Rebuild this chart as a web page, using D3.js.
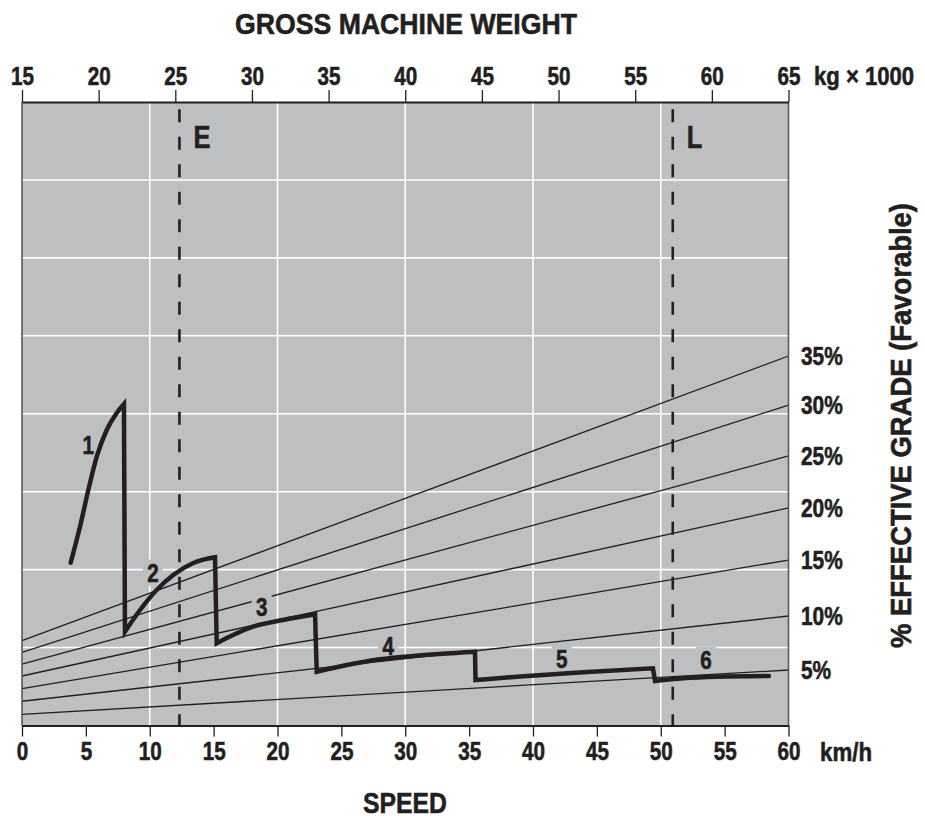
<!DOCTYPE html>
<html><head><meta charset="utf-8">
<script src="https://cdn.jsdelivr.net/npm/d3@7"></script>
<style>
body{margin:0;background:#fff;}
svg text{font-family:"Liberation Sans Narrow","Liberation Sans",Arial,sans-serif;font-weight:bold;fill:#231f20;stroke:#231f20;stroke-width:0.6px;}
</style></head><body>
<svg id="chart" width="925" height="820"></svg>
<script>
// ---------- data ----------
const speedTicks = [0,5,10,15,20,25,30,35,40,45,50,55,60];
const weightTicks = [15,20,25,30,35,40,45,50,55,60,65];
const gridSpeeds = [10,20,30,40,50];
const gridRimpull = [1,2,3,4,5,6,7];
const gradeLabels = ["5%","10%","15%","20%","25%","30%","35%"];
const gradeLeft  = [0.144,0.311,0.472,0.635,0.789,0.939,1.088];
const gradeRight = [0.712,1.405,2.123,2.791,3.458,4.112,4.741];
const gear1 = [[3.81,2.089],[4.54,2.551],[5.32,3.111],[5.85,3.449],[6.63,3.791],[7.41,4.010],[7.98,4.125]];
const gear2 = [[8.06,1.204],[9.24,1.482],[10.54,1.739],[11.84,1.931],[13.41,2.085],[15.11,2.158]];
const gear3 = [[15.24,1.055],[16.52,1.161],[18.08,1.268],[20.43,1.354],[22.94,1.427]];
const gear4 = [[23.07,0.690],[25.42,0.776],[28.02,0.849],[30.63,0.892],[35.46,0.947]];
const gear5 = [[35.50,0.584],[38.72,0.626],[43.91,0.683],[49.39,0.734]];
const gear6 = [[49.55,0.571],[51.74,0.606],[54.38,0.626],[58.47,0.635]];
const gears = [gear1,gear2,gear3,gear4,gear5,gear6];
const gearNames = ["1","2","3","4","5","6"];
const gearLabelAt = [[5.19,3.60],[10.25,1.96],[18.76,1.524],[28.67,1.024],[42.25,0.862],[53.54,0.840]];
const markerNames = ["E","L"];
const markerWeights = [25.27,57.45];

// ---------- layout ----------
const svg = d3.select("#chart");
const L = 22, R = 788.5, T = 102, B = 725.5;
const x = d3.scaleLinear([0,60],[L,R]);
const xw = d3.scaleLinear([15,65],[L,R]);
const y = d3.scaleLinear([0,8],[B,T]);
const ink = "#231f20";
const bg = "#bebfc1";

// condensing factor from font measurement
const probe = svg.append("text").attr("font-size",26).text("00");
const k = 23 / probe.node().getComputedTextLength();
probe.remove();

// fitted text: scaled horizontally to a target width
function fitText(str, tx, ty, size, width, anchor, rotate){
  const g = svg.append("g").attr("transform",`translate(${tx},${ty})${rotate?` rotate(${rotate})`:""}`);
  const t = g.append("text").attr("font-size",size).attr("text-anchor",anchor).text(str);
  const w = t.node().getComputedTextLength();
  t.attr("transform",`scale(${width/w},1)`);
  return t;
}

// background
svg.append("rect").attr("x",L).attr("y",T).attr("width",R-L).attr("height",B-T).attr("fill",bg);

// grid
svg.append("g").selectAll("line").data(gridSpeeds).join("line")
  .attr("x1",d=>x(d)).attr("x2",d=>x(d)).attr("y1",T).attr("y2",B)
  .attr("stroke","#fff").attr("stroke-width",1.6);
svg.append("g").selectAll("line").data(gridRimpull).join("line")
  .attr("x1",L).attr("x2",R).attr("y1",d=>y(d)).attr("y2",d=>y(d))
  .attr("stroke","#fff").attr("stroke-width",1.6);

// grade lines
svg.append("g").selectAll("line").data(gradeLabels).join("line")
  .attr("x1",x(0)).attr("x2",x(60))
  .attr("y1",(d,i)=>y(gradeLeft[i])).attr("y2",(d,i)=>y(gradeRight[i]))
  .attr("stroke",ink).attr("stroke-width",1.3);

// gear label knockouts + labels
const gl = svg.append("g").selectAll("g").data(gearNames).join("g")
  .attr("transform",(d,i)=>`translate(${x(gearLabelAt[i][0])},${y(gearLabelAt[i][1])})`);
gl.append("rect").attr("x",-10).attr("y",-13).attr("width",20).attr("height",26).attr("fill",bg);
gl.append("text").attr("font-size",26).attr("text-anchor","middle").attr("dy","0.36em")
  .attr("transform",`scale(${k},1)`).text(d=>d);

// marker dashed lines
svg.append("g").selectAll("line").data(markerWeights).join("line")
  .attr("x1",d=>xw(d)).attr("x2",d=>xw(d)).attr("y1",109.3).attr("y2",B)
  .attr("stroke",ink).attr("stroke-width",2.6).attr("stroke-dasharray","13,14.5");
svg.append("g").selectAll("g").data(markerNames).join("g")
  .attr("transform",(d,i)=>`translate(${xw(markerWeights[i])+14},147.5)`)
  .append("text").attr("font-size",32).attr("transform",`scale(${k},1)`).text(d=>d);

// rimpull curve (one continuous path)
const seg = d3.line().x(d=>x(d[0])).y(d=>y(d[1])).curve(d3.curveMonotoneX);
let dstr = "";
gears.forEach((g,i)=>{ let s = seg(g); if(i>0) s = "L"+s.slice(1); dstr += s; });
svg.append("path").attr("d",dstr).attr("fill","none").attr("stroke",ink)
  .attr("stroke-width",4.5).attr("stroke-linejoin","miter").attr("stroke-linecap","round");

// borders
svg.append("line").attr("x1",L).attr("x2",L).attr("y1",T).attr("y2",B).attr("stroke","#58595b").attr("stroke-width",1.6);
svg.append("line").attr("x1",R).attr("x2",R).attr("y1",T).attr("y2",B).attr("stroke","#58595b").attr("stroke-width",1.6);

// axes
function styleAxis(g){
  g.select(".domain").attr("stroke",ink).attr("stroke-width",2);
  g.selectAll(".tick line").attr("stroke",ink).attr("stroke-width",1.3);
  g.selectAll(".tick text").attr("font-size",26).attr("fill",ink).attr("transform",`scale(${k},1)`);
}
svg.append("g").attr("transform",`translate(0,${T})`)
  .call(d3.axisTop(xw).tickValues(weightTicks).tickSize(12).tickSizeOuter(0).tickPadding(5))
  .call(styleAxis);
svg.append("g").attr("transform",`translate(0,${B})`)
  .call(d3.axisBottom(x).tickValues(speedTicks).tickSize(11).tickSizeOuter(0).tickPadding(5))
  .call(styleAxis);

// grade labels
svg.append("g").selectAll("g").data(gradeLabels).join("g")
  .attr("transform",(d,i)=>`translate(801,${y(gradeRight[i])})`)
  .append("text").attr("font-size",25).attr("dy","0.36em").attr("transform",`scale(${k*1.05},1)`).text(d=>d);

// unit labels and titles
fitText("kg × 1000", 814, 85, 26, 100, "start");
fitText("km/h", 820, 761, 26, 52, "start");
fitText("GROSS MACHINE WEIGHT", 406, 33.5, 30, 342, "middle");
fitText("SPEED", 405, 813, 30, 84, "middle");
fitText("% EFFECTIVE GRADE (Favorable)", 911, 425.5, 30, 445, "middle", -90);
</script></body></html>
